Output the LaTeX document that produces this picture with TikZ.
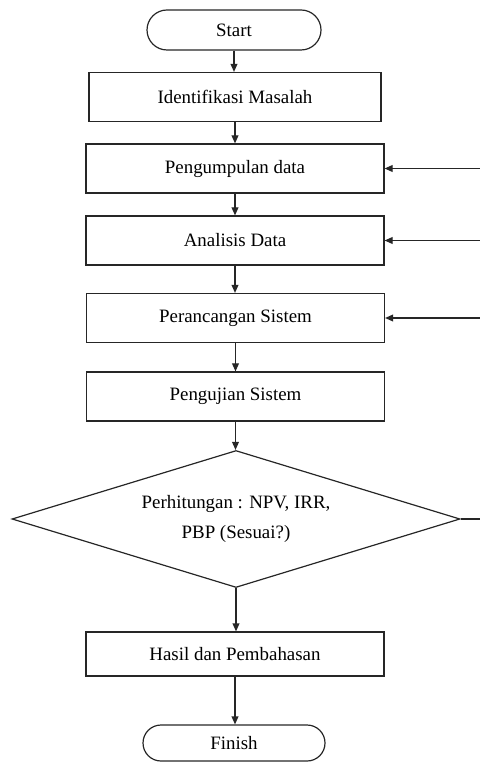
\documentclass[tikz,border=0pt]{standalone}
\usepackage{fontspec}
\setmainfont{Liberation Serif}
\usetikzlibrary{shapes.geometric,arrows.meta}
\begin{document}
\begin{tikzpicture}[x=0.5pt,y=-0.5pt,
  txt/.style={font=\fontsize{9.45}{15}\selectfont, inner sep=0pt, line width=0.6pt, draw=black!85, text=black},
  procbox/.style={txt, rectangle, minimum width=149pt, minimum height=24.5pt},
  term/.style={txt, rectangle, rounded corners=10pt, minimum width=87pt, minimum height=20pt},
  decision/.style={txt, diamond, aspect=3.27, minimum width=224pt, minimum height=68.5pt, align=center},
  link/.style={line width=0.6pt, draw=black!85},
  conn/.style={link, -{Triangle[length=4pt,width=3.4pt]}}]
\useasboundingbox (0,0) rectangle (480,763);
\node[term] (start) at (234,30) {Start};
\node[procbox, minimum width=146pt] (ident) at (235,97) {Identifikasi Masalah};
\node[procbox] (kumpul) at (235,168.5) {Pengumpulan data};
\node[procbox] (analisis) at (235,240.5) {Analisis Data};
\node[procbox] (rancang) at (235.5,318) {Perancangan Sistem};
\node[procbox] (uji) at (235.5,396.5) {Pengujian Sistem};
\node[decision] (hitung) at (236,519) {Perhitungan : NPV, IRR,\\PBP (Sesuai?)};
\node[procbox, minimum height=22pt] (hasil) at (235,654) {Hasil dan Pembahasan};
\node[term, minimum width=91pt, minimum height=18pt, rounded corners=9pt] (finish) at (234,743) {Finish};
\coordinate (f1) at (480,168.5);
\coordinate (f2) at (480,240.5);
\coordinate (f3) at (480,318);
\coordinate (d1) at (480,519);
\draw[conn] (start.south) -- (start.south |- ident.north);
\draw[conn] (ident.south) -- (ident.south |- kumpul.north);
\draw[conn] (kumpul.south) -- (kumpul.south |- analisis.north);
\draw[conn] (analisis.south) -- (analisis.south |- rancang.north);
\draw[conn] (rancang.south) -- (rancang.south |- uji.north);
\draw[conn] (uji.south) -- (uji.south |- hitung.north);
\draw[conn] (hitung.south) -- (hitung.south |- hasil.north);
\draw[conn] (hasil.south) -- (hasil.south |- finish.north);
\draw[conn] (f1) -- (kumpul.east);
\draw[conn] (f2) -- (analisis.east);
\draw[conn] (f3) -- (rancang.east);
\draw[link] (hitung.east) -- (d1);
\end{tikzpicture}
\end{document}
